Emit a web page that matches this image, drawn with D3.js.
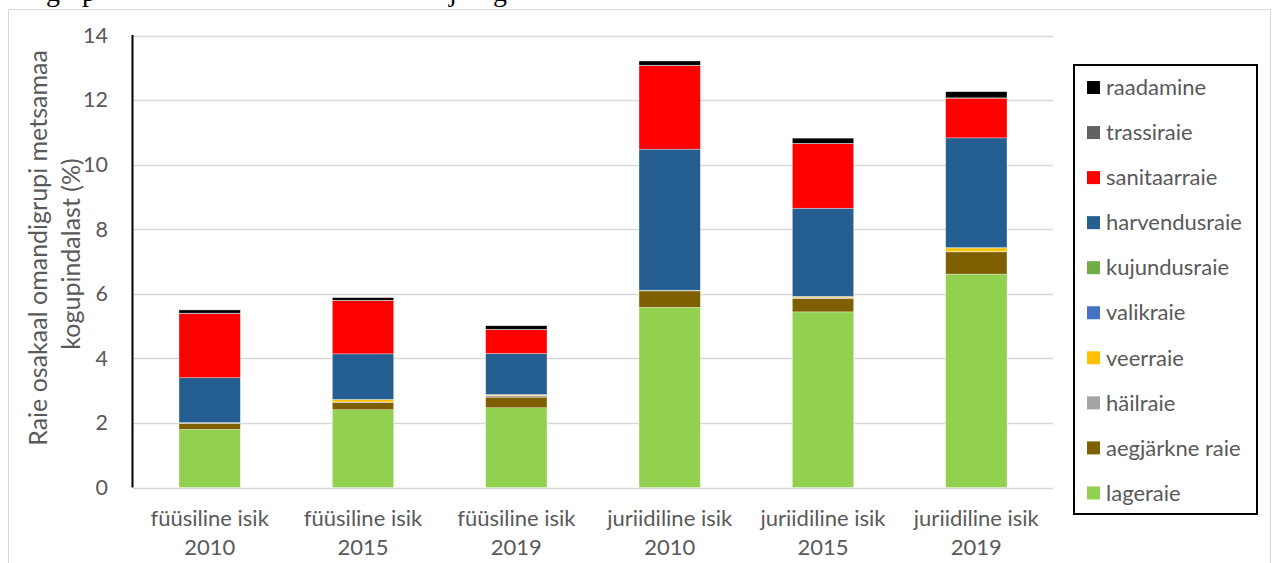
<!DOCTYPE html>
<html>
<head>
<meta charset="utf-8">
<script src="https://cdn.jsdelivr.net/npm/d3@7"></script>
<style>
  html, body { margin: 0; padding: 0; background: #fff; }
  svg { display: block; }
</style>
</head>
<body>
<svg id="chart" width="1273" height="563"></svg>
<script>
// ---- Data ----
const catLine1 = ["füüsiline isik", "füüsiline isik", "füüsiline isik", "juriidiline isik", "juriidiline isik", "juriidiline isik"];
const catLine2 = ["2010", "2015", "2019", "2010", "2015", "2019"];

const lageraie      = [1.80, 2.41, 2.47, 5.58, 5.44, 6.61];
const aegjarkneRaie = [0.19, 0.23, 0.33, 0.51, 0.42, 0.69];
const hailraie      = [0.01, 0.01, 0.05, 0.01, 0.02, 0.01];
const veerraie      = [0.00, 0.07, 0.02, 0.00, 0.03, 0.11];
const valikraie     = [0.00, 0.00, 0.00, 0.00, 0.00, 0.00];
const kujundusraie  = [0.01, 0.01, 0.01, 0.01, 0.01, 0.01];
const harvendusraie = [1.39, 1.41, 1.27, 4.37, 2.73, 3.40];
const sanitaarraie  = [1.99, 1.65, 0.74, 2.59, 2.00, 1.23];
const trassiraie    = [0.01, 0.01, 0.01, 0.01, 0.01, 0.01];
const raadamine     = [0.10, 0.08, 0.11, 0.13, 0.16, 0.19];

const seriesNames = ["lageraie", "aegjärkne raie", "häilraie", "veerraie", "valikraie",
                     "kujundusraie", "harvendusraie", "sanitaarraie", "trassiraie", "raadamine"];
const seriesValues = [lageraie, aegjarkneRaie, hailraie, veerraie, valikraie,
                      kujundusraie, harvendusraie, sanitaarraie, trassiraie, raadamine];
const seriesColors = ["#92D050", "#7F6000", "#A5A5A5", "#FFC000", "#4472C4",
                      "#70AD47", "#255E91", "#FF0000", "#636363", "#000000"];
const yTicks = [0, 2, 4, 6, 8, 10, 12, 14];
const yTitle1 = "Raie osakaal omandigrupi metsamaa";
const yTitle2 = "kogupindalast (%)";

// ---- Build table ----
const cats = catLine1.map((d, i) => i);
const table = cats.map(i => {
  const row = { idx: i };
  seriesNames.forEach((s, k) => row[s] = seriesValues[k][i]);
  return row;
});

const svg = d3.select("#chart");
const FONT = "Lato, 'Open Sans', sans-serif";
const TXT = "#595959";

// cropped caption above chart (only descenders visible, as in the reference)
const cap = svg.append("g").attr("font-family", "'Liberation Serif', serif").attr("font-size", 28).attr("fill", "#000");
[["g", 46], ["p", 82], ["j", 449], ["g", 493]].forEach(([t, x]) => {
  cap.append("text").attr("x", x).attr("y", 1).text(t);
});

// chart frame
svg.append("rect").attr("x", 8.5).attr("y", 9.5).attr("width", 1262).attr("height", 600)
  .attr("fill", "#fff").attr("stroke", "#d9d9d9").attr("stroke-width", 1);

const plot = { left: 133, right: 1053, top: 35.5, bottom: 487.5 };

const x = d3.scaleBand().domain(cats).range([plot.left, plot.right]).paddingInner(0.6).paddingOuter(0.3);
const y = d3.scaleLinear().domain([0, 14]).range([plot.bottom, plot.top]);

// gridlines
svg.append("g").selectAll("line").data(yTicks).join("line")
  .attr("x1", plot.left).attr("x2", plot.right)
  .attr("y1", d => Math.round(y(d)) + 0.5).attr("y2", d => Math.round(y(d)) + 0.5)
  .attr("stroke", "#d9d9d9").attr("stroke-width", 1.5);

// y axis
const yAxis = svg.append("g").attr("transform", `translate(${plot.left},0)`)
  .call(d3.axisLeft(y).tickValues(yTicks).tickSize(0).tickPadding(25).tickFormat(d3.format("d")));
yAxis.select(".domain").remove();
yAxis.selectAll("text").attr("font-family", FONT).attr("font-size", 21.5).attr("fill", TXT);
svg.append("line").attr("x1", plot.left - 0.5).attr("x2", plot.left - 0.5)
  .attr("y1", plot.top - 0.5).attr("y2", plot.bottom).attr("stroke", "#000").attr("stroke-width", 2);

// stacked bars
const stack = d3.stack().keys(seriesNames);
const layers = stack(table);
svg.append("g").selectAll("g").data(layers).join("g")
  .attr("fill", (d, i) => seriesColors[i])
  .selectAll("rect").data(d => d).join("rect")
  .attr("x", d => x(d.data.idx))
  .attr("width", x.bandwidth())
  .attr("y", d => y(d[1]))
  .attr("height", d => Math.max(0, y(d[0]) - y(d[1])))
  .attr("stroke", "rgba(255,255,255,0.55)")
  .attr("stroke-width", 0.6);

// x axis labels
const xl = svg.append("g").attr("font-family", FONT).attr("font-size", 22).attr("fill", TXT).attr("text-anchor", "middle");
cats.forEach(i => {
  const cx = x(i) + x.bandwidth() / 2;
  xl.append("text").attr("x", cx).attr("y", 526).text(catLine1[i]);
  xl.append("text").attr("x", cx).attr("y", 555).text(catLine2[i]);
});

// y title
const yt = svg.append("g").attr("font-family", FONT).attr("font-size", 25).attr("fill", TXT).attr("text-anchor", "middle");
yt.append("text").attr("transform", "translate(47,248) rotate(-90)").text(yTitle1);
yt.append("text").attr("transform", "translate(80,254) rotate(-90)").text(yTitle2);

// legend
const leg = svg.append("g");
leg.append("rect").attr("x", 1074).attr("y", 65).attr("width", 183).attr("height", 449)
  .attr("fill", "#fff").attr("stroke", "#000").attr("stroke-width", 2);
const legOrder = seriesNames.map((s, i) => i).reverse();
legOrder.forEach((k, j) => {
  const cy = 87.5 + j * 45.05;
  leg.append("rect").attr("x", 1087).attr("y", cy - 6.5).attr("width", 13).attr("height", 13).attr("fill", seriesColors[k]);
  leg.append("text").attr("x", 1106).attr("y", cy).attr("dy", "0.35em")
    .attr("font-family", FONT).attr("font-size", 22).attr("fill", TXT).text(seriesNames[k]);
});
</script>
</body>
</html>
